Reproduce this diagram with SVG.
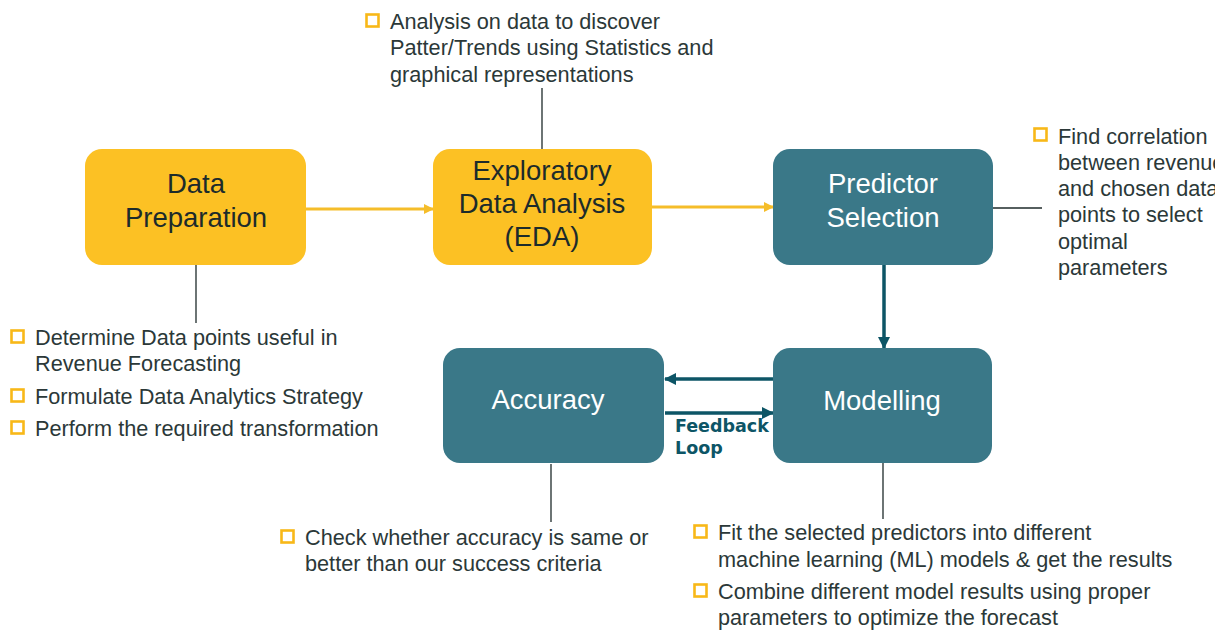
<svg xmlns="http://www.w3.org/2000/svg" width="1225" height="630" viewBox="0 0 1225 630">
  <defs>
    <style>
      .box-y { fill: #fcc124; }
      .box-t { fill: #3a7888; }
      .lbl-y { font-family: "Liberation Sans", Arial, sans-serif; font-size: 27.5px; fill: #1c2b2b; text-anchor: middle; }
      .lbl-t { font-family: "Liberation Sans", Arial, sans-serif; font-size: 27.5px; fill: #ffffff; text-anchor: middle; }
      .note { font-family: "Liberation Sans", Arial, sans-serif; font-size: 21.7px; fill: #2b3838; }
      .bullet { fill: none; stroke: #f8b818; stroke-width: 2.6; }
      .tick { stroke: #1e2a2a; stroke-width: 1.3; fill: none; }
      .flow-y { stroke: #f5bd2a; stroke-width: 3; fill: none; }
      .flow-t { stroke: #0d5566; stroke-width: 3.5; fill: none; }
      .fb { font-family: "DejaVu Sans", Verdana, sans-serif; font-size: 17.5px; font-weight: bold; fill: #0d5566; }
    </style>
    <marker id="ah-y" markerWidth="10" markerHeight="10" refX="9" refY="5" orient="auto" markerUnits="userSpaceOnUse">
      <path d="M0,0 L10,5 L0,10 Z" fill="#f5bd2a"/>
    </marker>
    <marker id="ah-t" markerWidth="12" markerHeight="12" refX="11" refY="6" orient="auto" markerUnits="userSpaceOnUse">
      <path d="M0,0 L12,6 L0,12 Z" fill="#0d5566"/>
    </marker>
    <clipPath id="page">
      <rect x="0" y="0" width="1215" height="630"/>
    </clipPath>
  </defs>

  <rect x="0" y="0" width="1225" height="630" fill="#ffffff"/>

  <!-- connectors -->
  <g id="connectors">
    <line class="flow-y" x1="306" y1="209" x2="433" y2="209" marker-end="url(#ah-y)"/>
    <line class="flow-y" x1="652" y1="207" x2="773" y2="207" marker-end="url(#ah-y)"/>
    <line class="flow-t" x1="884" y1="265" x2="884" y2="348" marker-end="url(#ah-t)"/>
    <line class="flow-t" x1="773" y1="379" x2="665" y2="379" marker-end="url(#ah-t)"/>
    <line class="flow-t" x1="665" y1="413" x2="773" y2="413" marker-end="url(#ah-t)"/>
    <!-- callout ticks -->
    <line class="tick" x1="196" y1="265" x2="196" y2="323"/>
    <line class="tick" x1="542" y1="88" x2="542" y2="149"/>
    <line class="tick" x1="993" y1="208" x2="1042" y2="208"/>
    <line class="tick" x1="551" y1="464" x2="551" y2="522"/>
    <line class="tick" x1="883" y1="463" x2="883" y2="519"/>
    <text class="fb" x="675" y="432">Feedback</text>
    <text class="fb" x="675" y="454">Loop</text>
  </g>

  <!-- nodes -->
  <g id="data-preparation">
    <rect class="box-y" x="85" y="149" width="221" height="116" rx="17"/>
    <text class="lbl-y" x="196" y="193">Data</text>
    <text class="lbl-y" x="196" y="227">Preparation</text>
  </g>

  <g id="eda">
    <rect class="box-y" x="433" y="149" width="219" height="116" rx="17"/>
    <text class="lbl-y" x="542" y="180">Exploratory</text>
    <text class="lbl-y" x="542" y="213">Data Analysis</text>
    <text class="lbl-y" x="542" y="246">(EDA)</text>
  </g>

  <g id="predictor-selection">
    <rect class="box-t" x="773" y="149" width="220" height="116" rx="17"/>
    <text class="lbl-t" x="883" y="193">Predictor</text>
    <text class="lbl-t" x="883" y="227">Selection</text>
  </g>

  <g id="modelling">
    <rect class="box-t" x="773" y="348" width="219" height="115" rx="17"/>
    <text class="lbl-t" x="882" y="410">Modelling</text>
  </g>

  <g id="accuracy">
    <rect class="box-t" x="443" y="348" width="221" height="115" rx="17"/>
    <text class="lbl-t" x="548" y="409">Accuracy</text>
  </g>

  <!-- notes -->
  <g id="note-data-preparation">
    <rect class="bullet" x="11.5" y="330.5" width="12" height="12"/>
    <text class="note" x="35" y="345">Determine Data points useful in</text>
    <text class="note" x="35" y="371">Revenue Forecasting</text>
    <rect class="bullet" x="11.5" y="389.5" width="12" height="12"/>
    <text class="note" x="35" y="404">Formulate Data Analytics Strategy</text>
    <rect class="bullet" x="11.5" y="421.5" width="12" height="12"/>
    <text class="note" x="35" y="436">Perform the required transformation</text>
  </g>

  <g id="note-eda">
    <rect class="bullet" x="366.5" y="14.5" width="12" height="12"/>
    <text class="note" x="390" y="29">Analysis on data to discover</text>
    <text class="note" x="390" y="55">Patter/Trends using Statistics and</text>
    <text class="note" x="390" y="82">graphical representations</text>
  </g>

  <g id="note-predictor-selection" clip-path="url(#page)">
    <rect class="bullet" x="1034.5" y="128.5" width="12" height="12"/>
    <text class="note" x="1058" y="144">Find correlation</text>
    <text class="note" x="1058" y="170">between revenue</text>
    <text class="note" x="1058" y="196">and chosen data</text>
    <text class="note" x="1058" y="222">points to select</text>
    <text class="note" x="1058" y="249">optimal</text>
    <text class="note" x="1058" y="275">parameters</text>
  </g>

  <g id="note-accuracy">
    <rect class="bullet" x="281.5" y="530.5" width="12" height="12"/>
    <text class="note" x="305" y="545">Check whether accuracy is same or</text>
    <text class="note" x="305" y="571">better than our success criteria</text>
  </g>

  <g id="note-modelling">
    <rect class="bullet" x="694.5" y="525.5" width="12" height="12"/>
    <text class="note" x="718" y="540">Fit the selected predictors into different</text>
    <text class="note" x="718" y="567">machine learning (ML) models &amp; get the results</text>
    <rect class="bullet" x="694.5" y="584.5" width="12" height="12"/>
    <text class="note" x="718" y="599">Combine different model results using proper</text>
    <text class="note" x="718" y="625">parameters to optimize the forecast</text>
  </g>
</svg>
